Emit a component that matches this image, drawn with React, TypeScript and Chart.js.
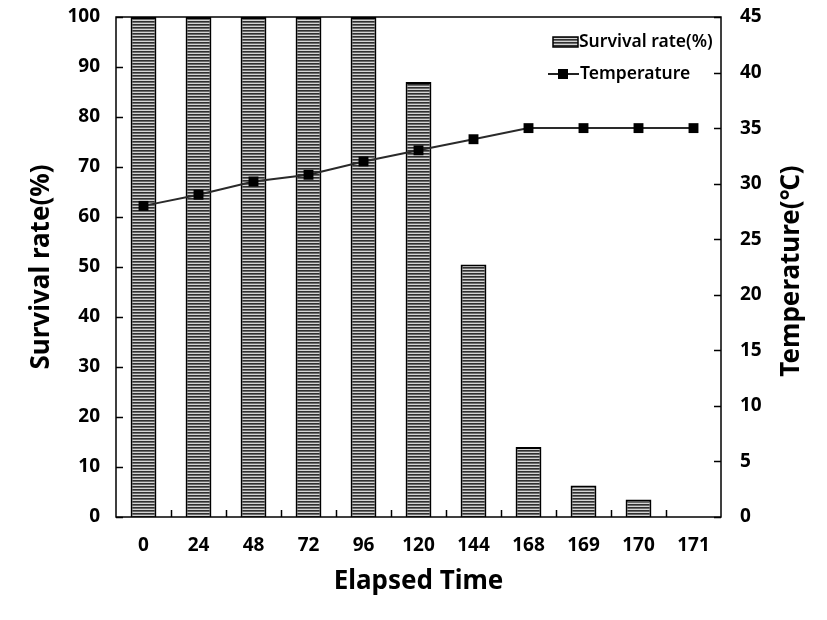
import React, { useEffect, useRef } from 'react';
import { Chart, registerables } from 'chart.js';
Chart.register(...registerables);

const categories = ['0', '24', '48', '72', '96', '120', '144', '168', '169', '170', '171'];
const survivalRate = [100, 100, 100, 100, 100, 87, 50.5, 14, 6.3, 3.5, 0];
const temperature = [28, 29, 30.2, 30.8, 32, 33, 34, 35, 35, 35, 35];
const leftAxis = { min: 0, max: 100, step: 10 };
const rightAxis = { min: 0, max: 45, step: 5 };
const xTitle = 'Elapsed Time';
const yLeftTitle = 'Survival rate(%)';
const yRightTitle = 'Temperature(℃)';
const legendLabels = ['Survival rate(%)', 'Temperature'];

const FONT = '"Noto Sans", sans-serif';

function makePattern(): CanvasPattern | string {
  const c = document.createElement('canvas');
  c.width = 4;
  c.height = 3;
  const g = c.getContext('2d');
  if (!g) return '#888';
  g.fillStyle = '#d4d4d4';
  g.fillRect(0, 0, 4, 3);
  g.fillStyle = '#303030';
  g.fillRect(0, 0, 4, 1);
  g.fillStyle = '#6a6a6a';
  g.fillRect(0, 1, 4, 1);
  const p = g.createPattern(c, 'repeat');
  return p || '#888';
}

export default function App() {
  const ref = useRef<HTMLCanvasElement | null>(null);
  useEffect(() => {
    document.body.style.margin = '0';
    const canvas = ref.current;
    if (!canvas) return;
    const pattern = makePattern();

    const decor = {
      id: 'decor',
      afterDraw(chart: any) {
        const { ctx, chartArea } = chart;
        const { left, right, top, bottom } = chartArea;
        const y = chart.scales.y;
        const y1 = chart.scales.y1;
        ctx.save();
        ctx.strokeStyle = '#000';
        ctx.lineWidth = 1.5;
        ctx.strokeRect(left, top, right - left, bottom - top);
        // inward ticks
        ctx.beginPath();
        for (let v = leftAxis.min; v <= leftAxis.max; v += leftAxis.step) {
          const py = Math.round(y.getPixelForValue(v)) + 0.5;
          ctx.moveTo(left, py);
          ctx.lineTo(left + 7, py);
        }
        for (let v = rightAxis.min; v <= rightAxis.max; v += rightAxis.step) {
          const py = Math.round(y1.getPixelForValue(v)) + 0.5;
          ctx.moveTo(right, py);
          ctx.lineTo(right - 7, py);
        }
        const n = categories.length;
        const w = (right - left) / n;
        for (let i = 1; i < n; i++) {
          const px = Math.round(left + i * w) + 0.5;
          ctx.moveTo(px, bottom);
          ctx.lineTo(px, bottom - 7);
        }
        ctx.stroke();

        // axis titles
        ctx.fillStyle = '#000';
        ctx.font = `bold 26px ${FONT}`;
        ctx.textAlign = 'center';
        ctx.textBaseline = 'middle';
        ctx.fillText(xTitle, (left + right) / 2, 582);
        ctx.save();
        ctx.translate(42, (top + bottom) / 2);
        ctx.rotate(-Math.PI / 2);
        ctx.fillText(yLeftTitle, 0, 0);
        ctx.restore();
        ctx.save();
        ctx.translate(792, (top + bottom) / 2 + 4);
        ctx.rotate(-Math.PI / 2);
        ctx.fillText(yRightTitle, 0, 0);
        ctx.restore();

        // legend
        ctx.font = `600 17.5px ${FONT}`;
        ctx.textAlign = 'left';
        ctx.textBaseline = 'middle';
        ctx.fillStyle = pattern as any;
        ctx.fillRect(553, 37, 25, 10);
        ctx.strokeStyle = '#000';
        ctx.lineWidth = 1.5;
        ctx.strokeRect(553, 37, 25, 10);
        ctx.fillStyle = '#000';
        ctx.fillText(legendLabels[0], 579, 42);
        ctx.beginPath();
        ctx.moveTo(548, 74);
        ctx.lineTo(579, 74);
        ctx.strokeStyle = '#222';
        ctx.lineWidth = 2;
        ctx.stroke();
        ctx.fillRect(558, 69, 10, 10);
        ctx.fillText(legendLabels[1], 580, 74);
        ctx.restore();
      },
    };

    const fitY = (w: number) => (s: any) => {
      s.width = w;
      s.paddingTop = 0;
      s.paddingBottom = 0;
    };

    const chart = new Chart(canvas, {
      type: 'bar',
      data: {
        labels: categories,
        datasets: [
          {
            type: 'line',
            label: legendLabels[1],
            data: temperature,
            yAxisID: 'y1',
            borderColor: '#2a2a2a',
            borderWidth: 2,
            pointStyle: 'rect',
            pointRadius: 7,
            pointBackgroundColor: '#000',
            pointBorderColor: '#000',
            pointBorderWidth: 0,
            order: 0,
          } as any,
          {
            type: 'bar',
            label: legendLabels[0],
            data: survivalRate,
            yAxisID: 'y',
            backgroundColor: pattern as any,
            borderColor: '#000',
            borderWidth: 2,
            barPercentage: 0.94,
            categoryPercentage: 0.5,
            order: 1,
          },
        ],
      },
      options: {
        responsive: false,
        animation: false,
        layout: { padding: { top: 17, left: 0, right: 0, bottom: 0 } },
        plugins: { legend: { display: false }, tooltip: { enabled: false } },
        scales: {
          x: {
            grid: { display: false, drawTicks: false },
            border: { display: false },
            ticks: { color: '#000', font: { family: FONT, size: 19, weight: 'bold' }, padding: 17, maxRotation: 0 },
            afterFit: (s: any) => { s.height = 103; s.paddingLeft = 0; s.paddingRight = 0; },
          },
          y: {
            position: 'left',
            min: leftAxis.min,
            max: leftAxis.max,
            grid: { display: false, drawTicks: false },
            border: { display: false },
            ticks: { stepSize: leftAxis.step, color: '#000', font: { family: FONT, size: 19, weight: 'bold' }, padding: 16 },
            afterFit: fitY(116),
          },
          y1: {
            position: 'right',
            min: rightAxis.min,
            max: rightAxis.max,
            grid: { display: false, drawTicks: false },
            border: { display: false },
            ticks: { stepSize: rightAxis.step, color: '#000', font: { family: FONT, size: 19, weight: 'bold' }, padding: 19 },
            afterFit: fitY(106),
          },
        },
      },
      plugins: [decor],
    } as any);
    return () => chart.destroy();
  }, []);
  return (
    <div style={{ position: 'absolute', left: 0, top: 0, width: 827, height: 620, background: '#fff' }}>
      <canvas ref={ref} width={827} height={620} />
    </div>
  );
}
